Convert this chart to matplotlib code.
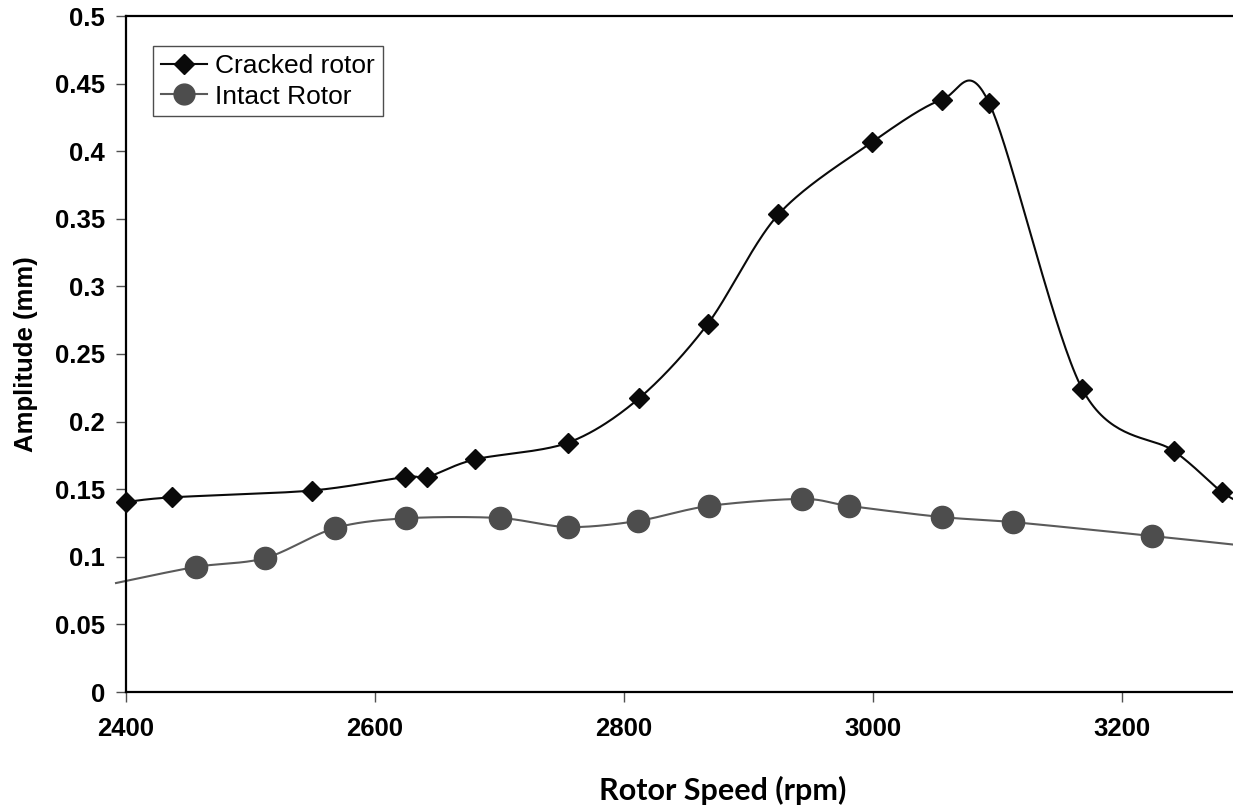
import numpy as np
import matplotlib
matplotlib.use("Agg")
import matplotlib.pyplot as plt
from matplotlib.lines import Line2D

# ---------------- data ----------------
cracked_rpm = [2400, 2437, 2549, 2624, 2642, 2680, 2755, 2812, 2867, 2924,
               2999, 3055, 3093, 3168, 3242, 3280, 3300]
cracked_amp = [0.1405, 0.144, 0.149, 0.159, 0.159, 0.172, 0.1844, 0.2172, 0.272,
               0.3533, 0.4066, 0.438, 0.436, 0.224, 0.178, 0.148, 0.138]

intact_rpm = [2392, 2456, 2512, 2568, 2625, 2700, 2755, 2811, 2868, 2943,
              2981, 3055, 3112, 3224, 3300]
intact_amp = [0.0806, 0.0925, 0.0991, 0.1213, 0.1285, 0.1287, 0.122, 0.1265,
              0.1376, 0.1428, 0.1376, 0.1294, 0.1257, 0.1154, 0.108]

series_labels = ["Cracked rotor", "Intact Rotor"]
x_ticks = [2400, 2600, 2800, 3000, 3200]
y_ticks = [0, 0.05, 0.1, 0.15, 0.2, 0.25, 0.3, 0.35, 0.4, 0.45, 0.5]
x_title = "Rotor Speed (rpm)"
y_title = "Amplitude (mm)"

XMIN, XMAX = 2400, 3289
YMIN, YMAX = 0, 0.5

# ---------------- figure ----------------
fig = plt.figure(figsize=(12.33, 8.07), dpi=100)
ax = fig.add_axes([126 / 1233, 1 - 692 / 807, 1107 / 1233, 676 / 807])
ax.set_xlim(XMIN, XMAX)
ax.set_ylim(YMIN, YMAX)

# screen-space scale for Excel-like smoothing
SX = 1107 / (XMAX - XMIN)
SY = 676 / (YMAX - YMIN)


def smooth(xs, ys, n=40, k=6.5):
    P = np.column_stack([(np.asarray(xs) - XMIN) * SX, np.asarray(ys) * SY])
    out = []
    m = len(P)
    for i in range(m - 1):
        p0 = P[i - 1] if i > 0 else P[i]
        p1 = P[i]
        p2 = P[i + 1]
        p3 = P[i + 2] if i + 2 < m else P[i + 1]
        c1 = p1 + (p2 - p0) / k
        c2 = p2 - (p3 - p1) / k
        t = np.linspace(0, 1, n)[:, None]
        seg = ((1 - t) ** 3) * p1 + 3 * ((1 - t) ** 2) * t * c1 + 3 * (1 - t) * t ** 2 * c2 + t ** 3 * p2
        out.append(seg if i == 0 else seg[1:])
    S = np.vstack(out)
    return S[:, 0] / SX + XMIN, S[:, 1] / SY


def inrange(xs, ys):
    xs = np.asarray(xs); ys = np.asarray(ys)
    m = (xs >= XMIN) & (xs <= XMAX)
    return xs[m], ys[m]


crack_col = "#0a0a0a"
intact_line = "#5a5a5a"
intact_mark = "#4d4d4d"

cx, cy = smooth(cracked_rpm, cracked_amp)
ax.plot(cx, cy, color=crack_col, lw=1.5, clip_on=False, zorder=3)
mx, my = inrange(cracked_rpm, cracked_amp)
ax.plot(mx, my, ls="none", marker="D", ms=10.5, color=crack_col, mec=crack_col,
        clip_on=False, zorder=4)

ix, iy = smooth(intact_rpm, intact_amp)
ax.plot(ix, iy, color=intact_line, lw=1.5, clip_on=False, zorder=2)
mx, my = inrange(intact_rpm, intact_amp)
ax.plot(mx, my, ls="none", marker="o", ms=16, color=intact_mark, mec=intact_mark,
        clip_on=False, zorder=3)

# ---------------- axes styling ----------------
for s in ["left", "bottom", "top"]:
    ax.spines[s].set_linewidth(1.6)
    ax.spines[s].set_color("black")
ax.spines["right"].set_visible(False)

ax.set_xticks(x_ticks)
ax.set_yticks(y_ticks)
ax.set_xticklabels([str(v) for v in x_ticks])
ax.set_yticklabels([f"{v:g}" for v in y_ticks])
ax.tick_params(axis="both", direction="out", length=7, width=1, color="#505050")
ax.tick_params(axis="x", pad=11)
ax.tick_params(axis="y", pad=8)
for lab in ax.get_xticklabels() + ax.get_yticklabels():
    lab.set_fontfamily("Liberation Sans")
    lab.set_fontweight("bold")
    lab.set_fontsize(18.5)

ax.set_ylabel(y_title, fontfamily="Liberation Sans", fontweight="bold", fontsize=18.5,
              labelpad=12)
fig.text(723 / 1233, 1 - 790 / 807, x_title, ha="center", va="center",
         fontfamily="Lato", fontweight="bold", fontsize=22)

handles = [
    Line2D([], [], color=crack_col, lw=1.5, marker="D", ms=10, mec=crack_col),
    Line2D([], [], color=intact_line, lw=1.5, marker="o", ms=15, mfc=intact_mark,
           mec=intact_mark),
]
leg = ax.legend(handles, series_labels, loc="upper left",
                bbox_to_anchor=((153 - 126) / 1107, (692 - 46) / 676),
                borderaxespad=0, frameon=True, fancybox=False, shadow=False,
                prop={"family": "Liberation Sans", "size": 19},
                handlelength=1.75, handletextpad=0.3, labelspacing=0.25,
                borderpad=0.3)
leg.get_frame().set_edgecolor("#222222")
leg.get_frame().set_linewidth(1.0)

fig.savefig("out.png", dpi=100)
